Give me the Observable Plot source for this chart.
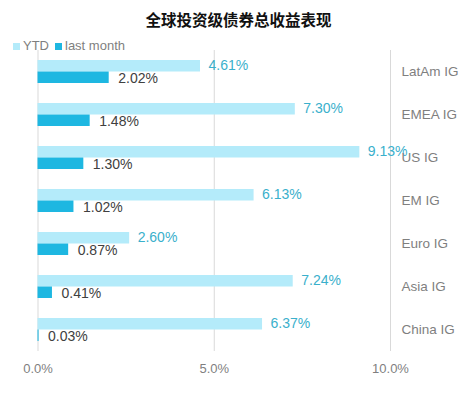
<!DOCTYPE html>
<html>
<head>
<meta charset="utf-8">
<script src="https://cdn.jsdelivr.net/npm/d3@7"></script>
<script src="https://cdn.jsdelivr.net/npm/@observablehq/plot@0.6"></script>
<style>
  html, body { margin: 0; padding: 0; background: #fff; }
  #wrap { position: relative; width: 467px; height: 396px; font-family: "Liberation Sans", Arial, sans-serif; }
  #title { position: absolute; left: 0; width: 477px; top: 9px; text-align: center; font-family: "Noto Sans CJK SC", sans-serif; font-weight: 700; font-size: 15.5px; line-height: 20px; color: #111; }
  #legend { position: absolute; left: 13px; top: 38px; font-size: 13px; line-height: 16px; color: #7f7f7f; display: flex; align-items: center; }
  #legend .sw { display: inline-block; width: 7px; height: 7px; margin-right: 3px; }
  #legend .item { display: flex; align-items: center; margin-right: 6px; }
  #chart { position: absolute; left: 0; top: 50px; }
</style>
</head>
<body>
<div id="wrap">
  <div id="title">全球投资级债券总收益表现</div>
  <div id="legend"></div>
  <div id="chart"></div>
</div>
<script>
const categories = ["LatAm IG", "EMEA IG", "US IG", "EM IG", "Euro IG", "Asia IG", "China IG"];
const ytd = [4.61, 7.30, 9.13, 6.13, 2.60, 7.24, 6.37];
const lastMonth = [2.02, 1.48, 1.30, 1.02, 0.87, 0.41, 0.03];
const xTicks = [0, 5, 10];
const seriesNames = ["YTD", "last month"];
const seriesColors = ["#b4ebfa", "#1eb7e1"];

const rows = categories.map((c, i) => ({cat: c, ytd: ytd[i], lm: lastMonth[i]}));
const fmt = v => v.toFixed(2) + "%";

const legend = document.getElementById("legend");
seriesNames.forEach((n, i) => {
  const it = document.createElement("span");
  it.className = "item";
  const sw = document.createElement("span");
  sw.className = "sw";
  sw.style.background = seriesColors[i];
  it.appendChild(sw);
  it.appendChild(document.createTextNode(n));
  legend.appendChild(it);
});

const half = 11.5;
const chart = Plot.plot({
  width: 467,
  height: 346,
  marginTop: 0,
  marginBottom: 45,
  marginLeft: 37.5,
  marginRight: 77,
  style: {fontFamily: "Liberation Sans, Arial, sans-serif", fontSize: "13px", background: "transparent"},
  x: {domain: [0, 10], ticks: xTicks, tickFormat: d => d.toFixed(1) + "%"},
  y: {domain: categories, paddingInner: 0.465, paddingOuter: 0.2325, label: null},
  marks: [
    Plot.ruleX(xTicks, {stroke: "#d9d9d9", strokeWidth: 1}),
    Plot.barX(rows, {x: "ytd", y: "cat", fill: seriesColors[0], insetBottom: half}),
    Plot.barX(rows, {x: "lm", y: "cat", fill: seriesColors[1], insetTop: half}),
    Plot.text(rows, {x: "ytd", y: "cat", text: d => fmt(d.ytd), dx: 8, dy: -half / 2 - 1, textAnchor: "start", fill: "#3ab0cc", fontSize: 14}),
    Plot.text(rows, {x: "lm", y: "cat", text: d => fmt(d.lm), dx: 9, dy: half / 2 + 1, textAnchor: "start", fill: "#404040", fontSize: 14}),
    Plot.axisX({ticks: xTicks, tickFormat: d => d.toFixed(1) + "%", tickSize: 0, tickPadding: 12, fill: "#7f7f7f", fontSize: 13, label: null}),
    Plot.axisY({anchor: "right", tickSize: 0, tickPadding: 11, fill: "#7f7f7f", fontSize: 13.5, textAnchor: "start", label: null})
  ]
});
document.getElementById("chart").appendChild(chart);
</script>
</body>
</html>
